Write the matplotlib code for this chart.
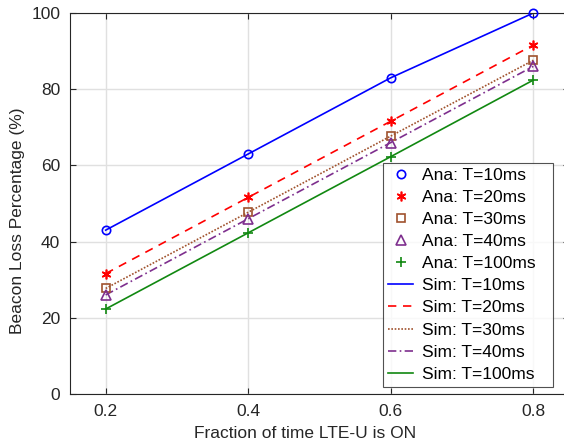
import matplotlib
matplotlib.use("Agg")
import matplotlib.pyplot as plt
import numpy as np

plt.rcParams['font.family'] = ['Liberation Sans', 'DejaVu Sans']

x = [0.2, 0.4, 0.6, 0.8]
labels_T = ["T=10ms", "T=20ms", "T=30ms", "T=40ms", "T=100ms"]
ana_10 = [43.0, 63.0, 83.0, 100.0]
ana_20 = [31.6, 51.6, 71.6, 91.6]
ana_30 = [27.7, 47.7, 67.7, 87.6]
ana_40 = [26.0, 46.0, 66.0, 86.0]
ana_100 = [22.3, 42.3, 62.3, 82.4]
sim_10 = [43.0, 63.0, 83.0, 100.0]
sim_20 = [31.6, 51.6, 71.6, 91.6]
sim_30 = [27.7, 47.7, 67.7, 87.6]
sim_40 = [26.0, 46.0, 66.0, 86.0]
sim_100 = [22.3, 42.3, 62.3, 82.4]
xticks = [0.2, 0.4, 0.6, 0.8]
yticks = [0, 20, 40, 60, 80, 100]

colors = ['#0000ff', '#ff0000', '#a0522d', '#7e2f8e', '#118811']
markers = ['o', (6, 2, 0), 's', '^', '+']
msizes = [6, 7, 5.5, 6.5, 7]
lstyles = ['-', (0, (5, 4)), (0, (1, 1)), (0, (5, 2, 1, 2)), '-']
ana = [ana_10, ana_20, ana_30, ana_40, ana_100]
sim = [sim_10, sim_20, sim_30, sim_40, sim_100]

fig = plt.figure(figsize=(5.64, 4.46), dpi=100)
ax = fig.add_axes([70/564, 1-394/446, 499/564, 381/446])

for a, c, m, ms, t in zip(ana, colors, markers, msizes, labels_T):
    ax.plot(x, a, linestyle='none', marker=m, markersize=ms, markerfacecolor='none',
            markeredgecolor=c, markeredgewidth=1.2, color=c, label='Ana: ' + t, clip_on=False, zorder=3)
for s, c, ls, t in zip(sim, colors, lstyles, labels_T):
    ax.plot(x, s, linestyle=ls, color=c, linewidth=1.2, label='Sim: ' + t, zorder=2)

ax.set_xlim(0.15, 0.85)
ax.set_ylim(0, 100)
ax.set_xticks(xticks)
ax.set_xticklabels([f"{v:.1f}" for v in xticks])
ax.set_yticks(yticks)
ax.grid(True, color='#e0e0e0', linewidth=1)
ax.set_axisbelow(True)
ax.tick_params(direction='in', top=True, right=True, labelsize=12.5, colors='#262626', length=4, pad=7)
for sp in ax.spines.values():
    sp.set_color('#262626')
ax.set_xlabel('Fraction of time LTE-U is ON', fontsize=12.5, color='#262626')
ax.set_ylabel('Beacon Loss Percentage (%)', fontsize=12.5, color='#262626')
ax.xaxis.set_label_coords((305-70)/499, -0.085)
ax.yaxis.set_label_coords(-0.09, 0.455)

x0 = (383-70)/499
x1 = (553-70)/499
leg = ax.legend(loc='lower left', bbox_to_anchor=(x0, (394-387)/381, x1 - x0, 0.1),
                mode='expand',
                fontsize=12.5, frameon=True, fancybox=False, edgecolor='#262626',
                labelspacing=0.40, handlelength=1.45, handletextpad=0.5, borderpad=0.3,
                borderaxespad=0)
leg.get_frame().set_linewidth(0.8)

fig.savefig('out.png', dpi=100)
